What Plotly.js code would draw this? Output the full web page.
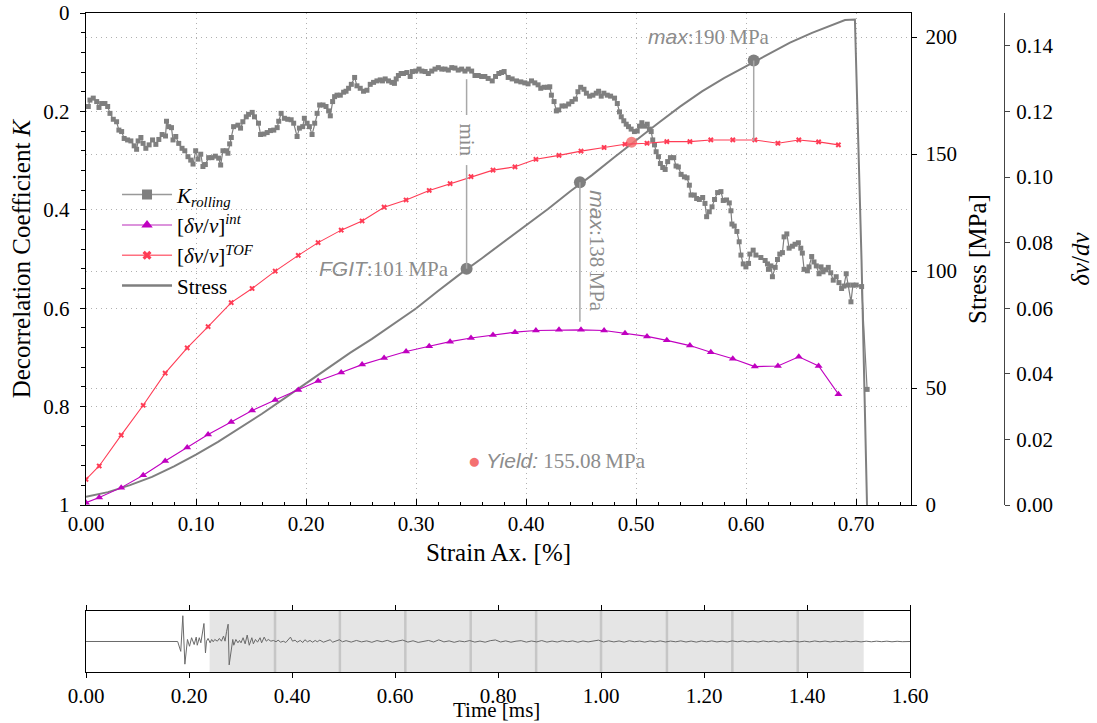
<!DOCTYPE html>
<html><head><meta charset="utf-8">
<script src="https://cdn.plot.ly/plotly-3.0.1.min.js"></script>
<style>html,body{margin:0;padding:0;background:#fff}</style>
</head><body>
<div id="chart" style="width:1097px;height:723px"></div>
<script>
// ---------------- DATA ----------------
const strainK = [0.0021,0.0036,0.0066,0.0097,0.0118,0.0142,0.0172,0.0197,0.0218,0.0248,0.0278,0.0299,0.0324,0.0347,0.0378,0.0408,0.0438,0.0460,0.0474,0.0499,0.0519,0.0544,0.0574,0.0605,0.0635,0.0662,0.0692,0.0723,0.0732,0.0752,0.0777,0.0791,0.0816,0.0843,0.0873,0.0898,0.0927,0.0952,0.0973,0.0997,0.1018,0.1043,0.1063,0.1085,0.1115,0.1145,0.1176,0.1206,0.1224,0.1245,0.1276,0.1290,0.1306,0.1321,0.1342,0.1381,0.1405,0.1426,0.1457,0.1478,0.1511,0.1532,0.1568,0.1587,0.1617,0.1647,0.1677,0.1707,0.1738,0.1752,0.1774,0.1804,0.1834,0.1865,0.1888,0.1919,0.1940,0.1970,0.1985,
0.2010,0.2031,0.2055,0.2079,0.2101,0.2124,0.2155,0.2182,0.2206,0.2221,0.2242,0.2260,0.2282,0.2312,0.2342,0.2364,0.2387,0.2412,0.2442,0.2463,0.2493,0.2523,0.2554,0.2584,0.2614,0.2645,0.2675,0.2695,0.2720,0.2750,0.2781,0.2804,0.2820,0.2840,0.2865,0.2886,0.2917,0.2947,0.2967,0.2998,0.3028,0.3053,0.3083,0.3112,0.3143,0.3173,0.3203,0.3234,0.3264,0.3294,0.3325,0.3354,0.3384,0.3415,0.3445,0.3475,0.3506,0.3536,0.3566,0.3597,0.3626,0.3656,0.3693,0.3723,0.3753,0.3778,0.3801,0.3838,0.3874,
0.3914,0.3953,0.3989,0.4019,0.4050,0.4080,0.4110,0.4134,0.4164,0.4195,0.4216,0.4231,0.4255,0.4276,0.4297,0.4327,0.4358,0.4388,0.4418,0.4449,0.4472,0.4497,0.4527,0.4549,0.4578,0.4608,0.4639,0.4660,0.4684,0.4708,0.4739,0.4769,0.4805,0.4830,0.4850,0.4866,0.4889,0.4911,0.4932,0.4956,0.4986,0.5011,0.5032,0.5053,0.5077,0.5102,0.5122,0.5138,0.5152,0.5168,0.5183,0.5204,0.5222,0.5243,0.5265,0.5288,0.5313,0.5343,0.5364,0.5385,0.5410,0.5440,0.5464,
0.5485,0.5500,0.5530,0.5551,0.5576,0.5606,0.5627,0.5642,0.5666,0.5691,0.5714,0.5742,0.5772,0.5793,0.5823,0.5848,0.5863,0.5872,0.5893,0.5917,0.5938,0.5954,0.5975,0.5999,0.6023,0.6035,0.6065,0.6090,0.6135,0.6174,0.6195,0.6204,0.6226,0.6240,0.6265,0.6286,0.6307,0.6331,0.6346,0.6371,0.6392,0.6422,0.6446,0.6476,0.6498,0.6512,0.6528,0.6558,0.6573,0.6597,0.6618,0.6639,0.6664,0.6682,0.6700,0.6724,0.6748,0.6770,0.6793,0.6820,0.6845,0.6869,0.6890,0.6911,0.6929,0.6954,0.6972,0.7002,0.7051,0.7101];
const kRolling = [0.190,0.177,0.173,0.180,0.192,0.184,0.184,0.190,0.204,0.216,0.221,0.238,0.241,0.255,0.258,0.260,0.270,0.277,0.260,0.253,0.265,0.275,0.268,0.258,0.267,0.257,0.247,0.250,0.220,0.231,0.233,0.258,0.251,0.265,0.275,0.280,0.292,0.299,0.307,0.280,0.297,0.287,0.312,0.308,0.294,0.294,0.291,0.295,0.309,0.280,0.280,0.285,0.266,0.253,0.231,0.228,0.234,0.221,0.211,0.206,0.202,0.211,0.224,0.247,0.246,0.243,0.239,0.238,0.233,0.220,0.204,0.214,0.216,0.217,0.224,0.251,0.234,0.231,0.214,
0.224,0.231,0.247,0.224,0.204,0.187,0.187,0.190,0.199,0.209,0.180,0.170,0.167,0.167,0.161,0.159,0.153,0.145,0.131,0.148,0.153,0.159,0.157,0.145,0.141,0.138,0.136,0.138,0.134,0.138,0.141,0.143,0.134,0.127,0.123,0.123,0.121,0.129,0.119,0.118,0.114,0.118,0.119,0.123,0.118,0.114,0.111,0.114,0.114,0.116,0.111,0.112,0.116,0.114,0.118,0.114,0.118,0.127,0.127,0.129,0.129,0.133,0.138,0.129,0.123,0.121,0.119,0.131,0.134,
0.138,0.140,0.142,0.144,0.138,0.142,0.146,0.153,0.151,0.151,0.150,0.167,0.180,0.199,0.197,0.189,0.189,0.185,0.180,0.175,0.160,0.151,0.155,0.163,0.169,0.167,0.163,0.159,0.169,0.163,0.167,0.169,0.173,0.184,0.201,0.211,0.219,0.226,0.231,0.236,0.241,0.240,0.230,0.223,0.230,0.226,0.236,0.241,0.258,0.268,0.282,0.292,0.306,0.314,0.318,0.302,0.294,0.294,0.311,0.313,0.328,0.333,0.335,
0.350,0.370,0.370,0.377,0.379,0.375,0.387,0.414,0.404,0.394,0.379,0.365,0.363,0.381,0.380,0.386,0.402,0.429,0.433,0.444,0.465,0.492,0.510,0.516,0.509,0.490,0.482,0.492,0.497,0.503,0.510,0.521,0.514,0.536,0.517,0.501,0.490,0.487,0.455,0.449,0.478,0.474,0.470,0.467,0.478,0.488,0.521,0.524,0.516,0.495,0.506,0.514,0.530,0.516,0.526,0.522,0.517,0.528,0.543,0.536,0.548,0.560,0.555,0.530,0.553,0.587,0.553,0.553,0.556,0.765];

const dvStrain = [0.000,0.012,0.032,0.052,0.072,0.092,0.111,0.132,0.151,0.172,0.193,0.211,0.232,0.251,0.271,0.291,0.312,0.331,0.350,0.370,0.390,0.409,0.430,0.450,0.471,0.490,0.510,0.528,0.549,0.568,0.588,0.608,0.629,0.648,0.666,0.684];
const dvInt = [0.0007,0.0023,0.0053,0.0091,0.0134,0.0175,0.0215,0.0253,0.0288,0.0320,0.0351,0.0378,0.0404,0.0428,0.0448,0.0468,0.0484,0.0498,0.0509,0.0518,0.0527,0.0532,0.0534,0.0534,0.0532,0.0524,0.0514,0.0502,0.0486,0.0466,0.0446,0.0422,0.0424,0.0452,0.0424,0.0338];
const dvTOF = [0.0078,0.0119,0.0213,0.0304,0.0402,0.0479,0.0544,0.0617,0.0660,0.0713,0.0761,0.0800,0.0838,0.0866,0.0908,0.0930,0.0959,0.0980,0.1001,0.1021,0.1031,0.1054,0.1066,0.1079,0.1090,0.1100,0.1103,0.1108,0.1108,0.1113,0.1113,0.1113,0.1103,0.1113,0.1107,0.1098];

const strainS = [0,0.02,0.04,0.06,0.08,0.10,0.12,0.14,0.16,0.18,0.20,0.22,0.24,0.26,0.28,0.30,0.32,0.34,0.36,0.38,0.40,0.42,0.44,0.46,0.48,0.50,0.52,0.54,0.56,0.58,0.60,0.62,0.64,0.66,0.68,0.69,0.699,0.705,0.710];
const stress  = [3.5,5.5,8.5,12,16.5,21.5,27,33,39,45.5,52,58.5,65,71,77.5,84,91.5,98.7,105.5,112.5,119.5,126.5,134,141,148.5,156,163.2,170.3,176.8,182.5,187.6,192.6,197.6,201.8,205.5,207.3,207.5,105,0];

// events on the stress curve
const eventStrain = [0.346, 0.449, 0.607];
const eventStress = [101, 138, 190];
const eventLineEnd = [182, 78.3, 155.6];   // where the guide lines end (MPa scale)
const yieldStrain = [0.496];
const yieldStress = [155.08];

// waveform panel
const waveTime = [0,0.178,0.184,0.188,0.192,0.197,0.201,0.205,0.210,0.214,0.216,0.220,0.223,0.227,0.229,0.232,0.234,0.237,0.241,0.244,0.247,0.250,0.255,0.259,0.263,0.267,0.270,0.273,0.276,0.278,0.282,0.285,0.287,0.291,0.295,0.298,0.301,0.305,0.309,0.313,0.317,0.322,0.325,0.329,0.333,0.338,0.341,0.346,0.350,0.354,0.359,0.364,0.369,0.373,0.378,0.383,0.388,0.393,0.397,0.401,0.406,0.410,0.416,0.421,0.425,0.430,0.435,0.440,0.445,0.449,0.454,0.461,0.467,0.474,0.479,0.485,0.492,0.498,
0.505,0.515,0.525,0.535,0.545,0.555,0.565,0.575,0.585,0.595,0.605,0.615,0.625,0.635,0.645,0.655,0.665,0.675,0.685,0.695,0.705,0.715,0.725,0.735,0.745,0.755,0.765,0.775,0.785,0.795,0.805,0.815,0.825,0.835,0.845,0.855,0.865,0.875,0.885,0.895,0.905,0.915,0.925,0.935,0.945,0.955,0.965,0.975,0.985,0.995,1.005,1.015,1.025,1.035,1.045,1.055,1.065,1.075,1.085,1.095,1.105,1.115,1.125,1.135,1.145,1.155,1.165,1.175,1.185,1.195,1.205,1.215,1.225,1.235,1.245,1.255,1.265,1.275,1.285,1.295,1.305,1.315,1.325,1.335,1.345,1.355,1.365,1.375,1.385,1.395,1.405,1.415,1.425,1.435,1.445,1.455,1.465,1.475,1.485,1.495,1.505,1.515,1.525,1.535,1.545,1.555,1.565,1.575,1.585,1.595,1.600];
const waveAmp = [0,0,-9.7,25.3,-22.3,2,-4.7,3.7,-3,4.3,-3.7,3.7,-1.3,13.7,17.7,-11.3,0.3,3,-1.3,2,-0.3,2,0.3,3,0.3,5.3,0.3,10,17,-23,-6,2,-3.7,2,-1.3,1,-1.3,3.7,-2.3,6.3,-3.7,3.7,-2.3,2,-0.7,3.7,-1.3,4.3,0.3,2,0.3,1,-0.3,1.3,-0.7,0.3,-1,1.7,4.3,0.3,1.3,-0.7,1,-1,1.7,-0.3,1,-0.7,1,-0.3,1.3,-0.7,0.7,1.7,-0.7,0.7,1.7,-0.3,
0.8,-0.6,1.0,-0.4,0.6,-0.8,0.9,-0.3,1.1,-0.7,0.5,1.4,-0.6,0.7,-0.9,0.4,1.0,-0.5,1.6,-0.4,0.6,-0.8,0.5,-0.3,0.9,-0.6,0.4,-0.7,0.8,1.5,-0.5,0.6,-0.7,0.3,0.8,-0.6,0.5,-0.4,0.9,-0.6,0.4,-0.5,0.7,-0.3,0.6,-0.7,0.5,-0.4,0.7,1.3,-0.5,0.6,-0.4,0.5,-0.6,0.7,-0.3,0.4,-0.6,0.5,-0.4,0.6,-0.5,0.4,-0.3,0.6,-0.5,0.4,-0.6,0.5,-0.3,0.6,-0.4,0.3,-0.5,0.6,-0.3,0.5,-0.4,0.3,-0.5,0.5,-0.3,0.4,-0.5,0.4,-0.3,0.5,-0.4,0.3,-0.4,0.5,-0.3,0.4,-0.4,0.3,-0.3,0.4,-0.3,0.3,-0.4,0.3,-0.3,0.3,-0.2,0.3,-0.3,0.2,-0.2,0.2,0];
const windowEdges = [0.24,0.367,0.493,0.62,0.747,0.874,1.0,1.128,1.255,1.382,1.51];

// legend labels
const seriesNames = ['<i>K</i><sub><i>rolling</i></sub>', '[<i>δv</i>/<i>v</i>]<sup><i>int</i></sup>', '[<i>δv</i>/<i>v</i>]<sup><i>TOF</i></sup>', 'Stress'];

// ---------------- PLOT ----------------
const GRAY = '#7f7f7f', ANN = '#8c8c8c', MAG = '#c000c0', RED = '#ff3c55';
const SERIF = 'Liberation Serif, serif', SANS = 'Liberation Sans, sans-serif';

const traces = [
  {x: strainK, y: kRolling, xaxis:'x', yaxis:'y', mode:'lines+markers', showlegend:false,
   line:{color:GRAY, width:1.2}, marker:{symbol:'square', size:5, color:GRAY}},
  {x: dvStrain, y: dvInt, xaxis:'x', yaxis:'y3', mode:'lines+markers', showlegend:false,
   line:{color:MAG, width:1.1}, marker:{symbol:'triangle-up', size:7, color:MAG}},
  {x: dvStrain, y: dvTOF, xaxis:'x', yaxis:'y3', mode:'lines+markers', showlegend:false,
   line:{color:RED, width:1.1}, marker:{symbol:'x', size:5, color:RED}},
  {x: strainS, y: stress, xaxis:'x', yaxis:'y2', mode:'lines', showlegend:false,
   line:{color:GRAY, width:2}},
  {x: eventStrain, y: eventStress, xaxis:'x', yaxis:'y2', mode:'markers', showlegend:false,
   marker:{size:12, color:GRAY}},
  {x: yieldStrain, y: yieldStress, xaxis:'x', yaxis:'y2', mode:'markers', showlegend:false,
   marker:{size:11, color:'#f47070', opacity:0.85}},
  {x: waveTime, y: waveAmp, xaxis:'x2', yaxis:'y4', mode:'lines', showlegend:false,
   line:{color:'#6a6a6a', width:1}},
  // legend entries (larger symbols, as in the reference legend)
  {x:[null], y:[null], name:seriesNames[0], mode:'lines+markers', line:{color:'#999', width:1.5}, marker:{symbol:'square', size:10, color:GRAY}},
  {x:[null], y:[null], name:seriesNames[1], mode:'lines+markers', line:{color:'#d070d0', width:1.5}, marker:{symbol:'triangle-up', size:10, color:MAG}},
  {x:[null], y:[null], name:seriesNames[2], mode:'lines+markers', line:{color:'#ff7080', width:1.5}, marker:{symbol:'x', size:8, color:RED}},
  {x:[null], y:[null], name:seriesNames[3], mode:'lines', line:{color:GRAY, width:2.5}}
];

const shapes = [];
const gapLo = 145.3, gapHi = 166.7; // gap for "min" text
shapes.push({type:'line', xref:'x', yref:'y2', x0:eventStrain[0], x1:eventStrain[0], y0:eventStress[0], y1:gapLo, line:{color:'#a8a8a8', width:1.5}});
shapes.push({type:'line', xref:'x', yref:'y2', x0:eventStrain[0], x1:eventStrain[0], y0:gapHi, y1:eventLineEnd[0], line:{color:'#a8a8a8', width:1.5}});
for (let i=1;i<3;i++) shapes.push({type:'line', xref:'x', yref:'y2', x0:eventStrain[i], x1:eventStrain[i], y0:eventStress[i], y1:eventLineEnd[i], line:{color:'#a8a8a8', width:1.5}});
shapes.push({type:'rect', xref:'x2', yref:'y4 domain', x0:windowEdges[0], x1:windowEdges[windowEdges.length-1], y0:0, y1:1, fillcolor:'#e5e5e5', line:{width:0}, layer:'below'});
for (let i=1;i<windowEdges.length-1;i++) shapes.push({type:'line', xref:'x2', yref:'y4 domain', x0:windowEdges[i], x1:windowEdges[i], y0:0, y1:1, line:{color:'#c6c6c6', width:2.5}, layer:'below'});

const annFont = {family:SERIF, size:21, color:ANN};
const annotations = [
  {xref:'x', yref:'y2', x:eventStrain[0], y:eventStress[0], xanchor:'right', yanchor:'middle', xshift:-16, showarrow:false, font:annFont,
   text:'<span style="font-family:'+SANS+'"><i>FGIT</i></span>:101\u2009MPa'},
  {xref:'x', yref:'y2', x:eventStrain[0], y:(gapLo+gapHi)/2, textangle:90, showarrow:false, font:annFont, text:'min'},
  {xref:'x', yref:'y2', x:eventStrain[1], y:eventStress[1], textangle:90, xshift:17, yshift:-69, showarrow:false, font:annFont,
   text:'<span style="font-family:'+SANS+'"><i>max</i></span>:138\u2009MPa'},
  {xref:'x', yref:'y2', x:eventStrain[2], y:eventStress[2], xshift:-45, yshift:23, showarrow:false, font:annFont,
   text:'<span style="font-family:'+SANS+'"><i>max</i></span>:190\u2009MPa'},
  {xref:'x', yref:'y', x:0.3454, y:0.911, xanchor:'left', yanchor:'middle', showarrow:false, font:annFont,
   text:'<span style="color:#f47070">●</span> <span style="font-family:'+SANS+'"><i>Yield:</i></span> 155.08\u2009MPa'},
  {xref:'paper', yref:'paper', x:0.4147, y:-0.058, xanchor:'center', yanchor:'middle', showarrow:false,
   font:{family:SERIF, size:21, color:'#000'}, text:'Time [ms]'}
];

const gridStyle = {showgrid:true, gridcolor:'#b0b0b0', gridwidth:1, griddash:'1px,4px'};
const layout = {
  width:1097, height:723, margin:{l:86, r:20, t:13, b:51},
  paper_bgcolor:'#fff', plot_bgcolor:'rgba(0,0,0,0)',
  font:{family:SERIF, size:21, color:'#000'},
  showlegend:true,
  legend:{x:0.0313, y:0.755, xanchor:'left', yanchor:'top', bgcolor:'rgba(0,0,0,0)', font:{family:SERIF, size:21}, itemwidth:50, tracegroupgap:0},
  xaxis: Object.assign({domain:[0,0.8325], anchor:'y', range:[0,0.75], tickvals:[0,0.1,0.2,0.3,0.4,0.5,0.6,0.7], tickformat:'.2f',
    ticks:'inside', ticklen:6, tickcolor:'#000', showline:true, linecolor:'#000', linewidth:1.2, mirror:true, zeroline:false,
    minor:{dtick:0.02, ticks:'inside', ticklen:3, tickcolor:'#000', showgrid:false},
    title:{text:'Strain Ax. [%]', standoff:8}}, gridStyle),
  yaxis: Object.assign({domain:[0.2534,1], anchor:'x', range:[1,0], tickvals:[0,0.2,0.4,0.6,0.8,1], ticktext:['0','0.2','0.4','0.6','0.8','1'],
    ticks:'outside', ticklen:5, tickcolor:'#000', ticklabelstandoff:6, showline:true, linecolor:'#000', linewidth:1.2, zeroline:false,
    minor:{dtick:0.04, ticks:'outside', ticklen:4, tickcolor:'#000', showgrid:false},
    title:{text:'Decorrelation Coefficient <i>K</i>', standoff:5}}, gridStyle),
  yaxis2: Object.assign({overlaying:'y', side:'right', anchor:'x', range:[0,210.3], tickvals:[0,50,100,150,200],
    ticks:'outside', ticklen:5, tickcolor:'#000', ticklabelstandoff:4, showline:true, linecolor:'#000', linewidth:1.2, zeroline:false,
    title:{text:'Stress [MPa]', standoff:12}}, gridStyle),
  yaxis3: {overlaying:'y', side:'right', anchor:'free', position:0.9263, range:[0,0.15], tickvals:[0,0.02,0.04,0.06,0.08,0.10,0.12,0.14], tickformat:'.2f',
    ticks:'outside', ticklen:5, tickcolor:'#444', ticklabelstandoff:2, showline:true, linecolor:'#444', linewidth:1.2, zeroline:false, showgrid:false,
    title:{text:'<i>δv</i>/<i>dv</i>', standoff:18}},
  xaxis2: {domain:[0,0.8315], anchor:'y4', range:[0,1.6], tickvals:[0,0.2,0.4,0.6,0.8,1.0,1.2,1.4,1.6], tickformat:'.2f',
    ticks:'outside', ticklen:5, tickcolor:'#000', showline:true, linecolor:'#000', linewidth:1.2, mirror:'ticks', zeroline:false, showgrid:false},
  yaxis4: {domain:[0,0.0926], anchor:'x2', range:[-30,30], showticklabels:false, ticks:'', showline:true, linecolor:'#000', linewidth:1.2,
    mirror:true, zeroline:false, showgrid:false},
  shapes: shapes,
  annotations: annotations
};

Plotly.newPlot('chart', traces, layout, {staticPlot:true, displayModeBar:false});
</script>
</body></html>
